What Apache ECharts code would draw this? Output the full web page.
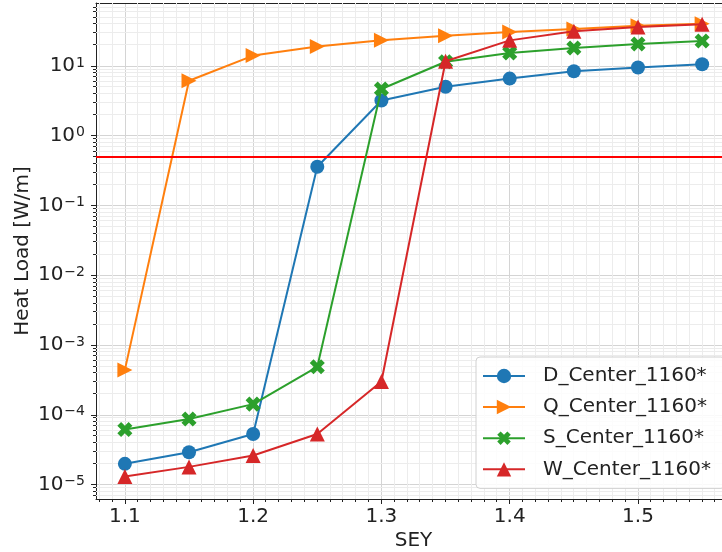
<!DOCTYPE html>
<html>
<head>
<meta charset="utf-8">
<script src="https://cdn.jsdelivr.net/npm/echarts@6/dist/echarts.min.js"></script>
<style>
  html, body { margin: 0; padding: 0; background: #ffffff; }
  #chart { width: 722px; height: 552px; }
</style>
</head>
<body>
<div id="chart"></div>
<script>
// Secondary electron yield values scanned
const sey = [1.10, 1.15, 1.20, 1.25, 1.30, 1.35, 1.40, 1.45, 1.50, 1.55];

// Heat load per configuration [W/m]
const dCenter = [1.98e-5, 2.9e-5, 5.3e-5, 0.36, 3.2, 5.05, 6.6, 8.4, 9.5, 10.6];
const qCenter = [4.4e-4, 6.15, 14.1, 19.1, 23.3, 27.2, 30.7, 33.9, 37.8, 40.3];
const sCenter = [6.15e-5, 8.7e-5, 1.42e-4, 4.87e-4, 4.68, 11.5, 15.4, 18.1, 20.7, 22.8];
const wCenter = [1.3e-5, 1.79e-5, 2.6e-5, 5.3e-5, 3.0e-4, 11.7, 23.3, 31.4, 36.2, 39.8];

const seriesNames = ['D_Center_1160*', 'Q_Center_1160*', 'S_Center_1160*', 'W_Center_1160*'];
const seriesValues = [dCenter, qCenter, sCenter, wCenter];
const seriesColors = ['#1f77b4', '#ff7f0e', '#2ca02c', '#d62728'];

// Heat load limit drawn as a horizontal line
const limitValue = 0.5;

// Axis extents
const xRange = [1.0775, 1.5725];
const yRange = [6.2e-6, 80];

// Minor tick positions: every 0.01 on x, 2..9 per decade on y
const xMinor = [];
for (let k = 108; k <= 157; k++) {
  if (k % 10 !== 0) xMinor.push(k / 100);
}
const yMinor = [];
for (let e = -6; e <= 1; e++) {
  for (let m = 2; m <= 9; m++) {
    const v = m * Math.pow(10, e);
    if (v > yRange[0] && v < yRange[1]) yMinor.push(v);
  }
}

const FONT = 'DejaVu Sans';
const TEXT = '#222222';
const MINOR_GRID = '#ececec';
const MAJOR_GRID = '#d4d4d4';

// Plus shape, rotated 45 degrees for the filled X marker
const plusPath = 'path://M-1,-3L1,-3L1,-1L3,-1L3,1L1,1L1,3L-1,3L-1,1L-3,1L-3,-1L-1,-1Z';
const markers = [
  { symbol: 'circle', size: 14, rotate: 0 },
  { symbol: 'triangle', size: 15, rotate: -90 },
  { symbol: plusPath, size: 16, rotate: 45 },
  { symbol: 'triangle', size: 15, rotate: 0 }
];

const crisp = v => Math.round(v - 0.5) + 0.5;

function renderXMinor(params, api) {
  const x = api.value(0);
  const pb = api.coord([x, yRange[0]]);
  const pt = api.coord([x, yRange[1]]);
  const cx = crisp(pb[0]);
  return {
    type: 'group',
    children: [
      { type: 'line', shape: { x1: cx, y1: pt[1], x2: cx, y2: pb[1] },
        style: { stroke: MINOR_GRID, lineWidth: 1 } },
      { type: 'line', shape: { x1: cx, y1: pb[1], x2: cx, y2: pb[1] + 3 },
        style: { stroke: TEXT, lineWidth: 1 } }
    ]
  };
}

function renderYMinor(params, api) {
  const y = api.value(1);
  const pl = api.coord([xRange[0], y]);
  const pr = api.coord([xRange[1], y]);
  const cy = crisp(pl[1]);
  return {
    type: 'group',
    children: [
      { type: 'line', shape: { x1: pl[0], y1: cy, x2: pr[0], y2: cy },
        style: { stroke: MINOR_GRID, lineWidth: 1 } },
      { type: 'line', shape: { x1: pl[0] - 3, y1: cy, x2: pl[0], y2: cy },
        style: { stroke: TEXT, lineWidth: 1 } }
    ]
  };
}

function expLabel(value) {
  const e = Math.round(Math.log10(value));
  const s = e < 0 ? '\u2212' + Math.abs(e) : String(e);
  return '{b|10}{s|' + s + '}';
}

const lineSeries = seriesNames.map((name, i) => ({
  name: name,
  type: 'line',
  data: sey.map((x, j) => [x, seriesValues[i][j]]),
  symbol: markers[i].symbol,
  symbolSize: markers[i].size,
  symbolRotate: markers[i].rotate,
  symbolKeepAspect: true,
  showAllSymbol: true,
  color: seriesColors[i],
  lineStyle: { width: 2, color: seriesColors[i] },
  itemStyle: { color: seriesColors[i] },
  z: 3 + i,
  animation: false
}));

const chart = echarts.init(document.getElementById('chart'), null, { renderer: 'canvas' });

chart.setOption({
  animation: false,
  backgroundColor: '#ffffff',
  textStyle: { fontFamily: FONT },
  grid: {
    left: 96, top: 3, bottom: 53, width: 635,
    containLabel: false,
    outerBoundsMode: 'none',
    show: false
  },
  legend: {
    orient: 'vertical',
    left: 476, top: 357,
    data: seriesNames,
    itemWidth: 42, itemHeight: 18, itemGap: 11,
    padding: [9, 14, 9, 6],
    backgroundColor: 'rgba(255,255,255,0.85)',
    borderColor: '#d0d0d0', borderWidth: 1, borderRadius: 4,
    textStyle: { fontFamily: FONT, fontSize: 20, color: TEXT, padding: [0, 0, 0, 13] }
  },
  xAxis: [
    {
      type: 'value',
      min: xRange[0], max: xRange[1],
      name: 'SEY', nameLocation: 'middle', nameGap: 32,
      nameMoveOverlap: false,
      nameTextStyle: { fontFamily: FONT, fontSize: 20, color: TEXT },
      axisLine: { show: true, lineStyle: { color: TEXT, width: 1 } },
      axisTick: { show: true, inside: false, length: 5, lineStyle: { color: TEXT } },
      axisLabel: {
        fontFamily: FONT, fontSize: 20, color: TEXT, margin: 8,
        showMinLabel: false, showMaxLabel: false,
        formatter: v => v.toFixed(1)
      },
      splitLine: { show: true, lineStyle: { color: MAJOR_GRID, width: 1 } }
    },
    {
      // top frame line of the plot area
      type: 'value', position: 'top',
      min: xRange[0], max: xRange[1],
      axisLine: { show: true, onZero: false, lineStyle: { color: TEXT, width: 1 } },
      axisTick: { show: false },
      axisLabel: { show: false },
      splitLine: { show: false }
    }
  ],
  yAxis: {
    type: 'log', logBase: 10,
    min: yRange[0], max: yRange[1],
    name: 'Heat Load [W/m]', nameLocation: 'middle', nameGap: 63,
    nameMoveOverlap: false,
    nameTextStyle: { fontFamily: FONT, fontSize: 20, color: TEXT },
    axisLine: { show: true, lineStyle: { color: TEXT, width: 1 } },
    axisTick: { show: true, inside: false, length: 5, lineStyle: { color: TEXT } },
    axisLabel: {
      fontFamily: FONT, color: TEXT, margin: 11,
      showMinLabel: false, showMaxLabel: false,
      formatter: expLabel,
      rich: {
        b: { fontFamily: FONT, fontSize: 20, lineHeight: 20, color: TEXT, verticalAlign: 'bottom' },
        s: { fontFamily: FONT, fontSize: 14, lineHeight: 14, color: TEXT, verticalAlign: 'top', padding: [0, 0, 12, 1] }
      }
    },
    splitLine: { show: true, lineStyle: { color: MAJOR_GRID, width: 1 } }
  },
  series: [
    {
      type: 'custom', name: 'xMinor', silent: true, z: 1,
      data: xMinor.map(x => [x, yRange[0]]),
      encode: { x: 0, y: 1 },
      renderItem: renderXMinor
    },
    {
      type: 'custom', name: 'yMinor', silent: true, z: 1,
      data: yMinor.map(v => [xRange[0], v]),
      encode: { x: 0, y: 1 },
      renderItem: renderYMinor
    },
    ...lineSeries,
    {
      type: 'line', name: 'limit', data: [], silent: true, z: 10,
      markLine: {
        silent: true, symbol: 'none', animation: false,
        label: { show: false },
        lineStyle: { color: '#ff0000', width: 2, type: 'solid' },
        data: [{ yAxis: limitValue }]
      }
    }
  ]
});
</script>
</body>
</html>
